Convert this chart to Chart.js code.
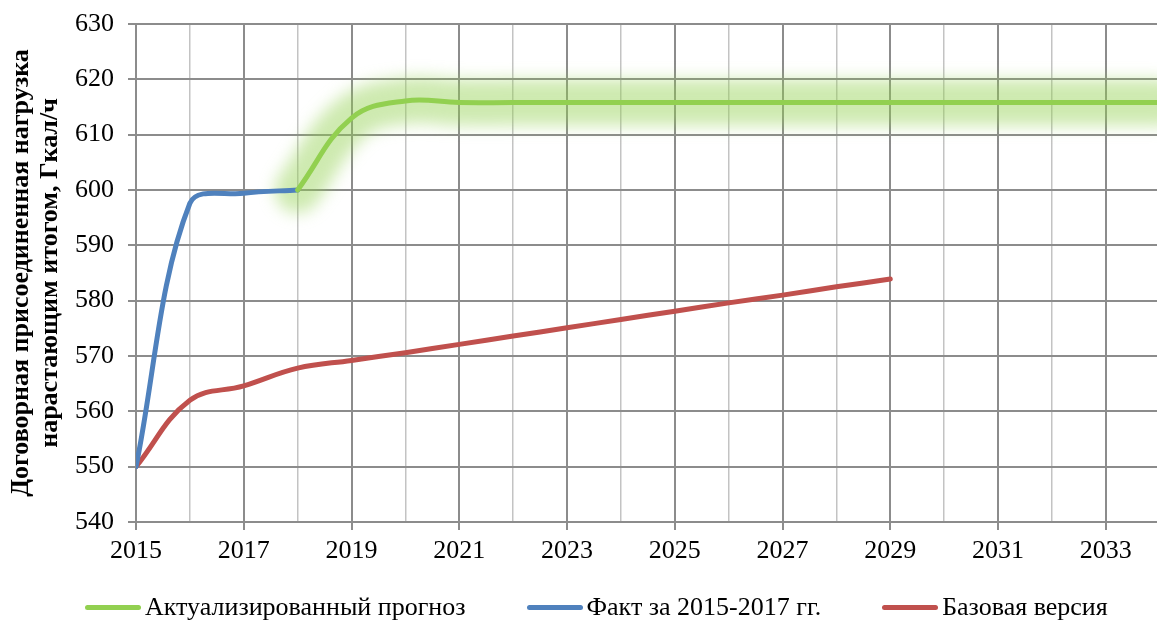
<!DOCTYPE html>
<html lang="ru">
<head>
<meta charset="utf-8">
<script src="https://cdn.jsdelivr.net/npm/chart.js@4.4.1/dist/chart.umd.min.js"></script>
<style>
  html, body { margin: 0; padding: 0; background: #fff; }
  .wrap { position: relative; width: 1157px; height: 623px; }
  .legend {
    position: absolute; left: 85px; top: 591px;
    display: flex; gap: 61px; align-items: center;
    font-family: 'Liberation Serif', 'Times New Roman', serif; font-size: 26px; color: #000;
    line-height: 32px;
  }
  .legend .item { display: flex; align-items: center; }
  .legend .swatch { width: 56px; height: 5px; border-radius: 3px; margin-right: 4px; }
</style>
</head>
<body>
<div class="wrap">
  <canvas id="chart" width="1157" height="623"></canvas>
  <div class="legend" id="legend"></div>
</div>
<script>
// ── DATA ─────────────────────────────────────────────────────
const forecastYears  = [2018, 2019, 2020, 2021, 2022, 2023, 2024, 2025, 2026, 2027, 2028, 2029, 2030, 2031, 2032, 2033, 2034];
const forecastValues = [600, 613.0, 616.1, 615.8, 615.8, 615.8, 615.8, 615.8, 615.8, 615.8, 615.8, 615.8, 615.8, 615.8, 615.8, 615.8, 615.8];

const factYears  = [2015, 2016, 2017, 2018];
const factValues = [550, 597.6, 599.4, 600];

const baseYears  = [2015, 2016, 2017, 2018, 2019, 2020, 2021, 2022, 2023, 2024, 2025, 2026, 2027, 2028, 2029];
const baseValues = [550, 562.0, 564.6, 567.8, 569.2, 570.6, 572.1, 573.6, 575.1, 576.6, 578.1, 579.6, 581.0, 582.5, 583.9];

const labels = ['Актуализированный прогноз', 'Факт за 2015-2017 гг.', 'Базовая версия'];
const colors = ['#92D050', '#4F81BD', '#C0504D'];

const yTitle = ['Договорная присоединенная нагрузка', 'нарастающим итогом, Гкал/ч'];
const tickYears = [];
for (let y = 2015; y <= 2033; y++) tickYears.push(y);

const FONT = "'Liberation Serif', 'Times New Roman', serif";
const GRID_MAJOR = '#8C8C8C';
const GRID_MINOR = '#C3C3C3';

function pts(xs, ys) {
  return xs.map((x, i) => ({ x, y: ys[i] }));
}

// ── GLOW PLUGIN (soft halo under the forecast line) ─────────
const glowPlugin = {
  id: 'glow',
  beforeDatasetDraw(chart, args) {
    if (chart.data.datasets[args.index].isGlow) chart.ctx.filter = 'blur(8px)';
  },
  afterDatasetDraw(chart, args) {
    chart.ctx.filter = 'none';
  }
};

// ── CHART ────────────────────────────────────────────────────
const ctx = document.getElementById('chart').getContext('2d');
new Chart(ctx, {
  type: 'line',
  data: {
    datasets: [
      { label: labels[0], data: pts(forecastYears, forecastValues), borderColor: colors[0], borderWidth: 5, tension: 0.4, pointRadius: 0, borderCapStyle: 'round' },
      { label: labels[1], data: pts(factYears, factValues), borderColor: colors[1], borderWidth: 5, tension: 0.35, pointRadius: 0, borderCapStyle: 'round' },
      { label: labels[2], data: pts(baseYears, baseValues), borderColor: colors[2], borderWidth: 5, tension: 0.4, pointRadius: 0, borderCapStyle: 'round' },
      { label: 'glow', isGlow: true, data: pts(forecastYears, forecastValues), borderColor: 'rgba(146,208,80,0.45)', borderWidth: 46, tension: 0.4, pointRadius: 0, borderCapStyle: 'round' }
    ]
  },
  options: {
    responsive: false,
    animation: false,
    layout: { padding: { top: 24, right: 0, bottom: 51, left: 0 } },
    plugins: { legend: { display: false }, tooltip: { enabled: false } },
    scales: {
      x: {
        type: 'linear',
        min: 2015,
        max: 2033.95,
        afterBuildTicks: s => { s.ticks = tickYears.map(v => ({ value: v })); },
        afterFit: s => { s.height = 50; s.paddingLeft = 0; s.paddingRight = 0; },
        grid: {
          color: c => (c.tick && c.tick.value % 2 === 1) ? GRID_MAJOR : GRID_MINOR,
          lineWidth: c => (c.tick && c.tick.value % 2 === 1) ? 2 : 1.5,
          tickColor: c => (c.tick && c.tick.value % 2 === 1) ? GRID_MAJOR : 'rgba(0,0,0,0)',
          tickLength: 8,
          drawTicks: true
        },
        border: { color: GRID_MAJOR, width: 2 },
        ticks: {
          autoSkip: false,
          maxRotation: 0,
          padding: 6,
          color: '#000',
          font: { family: FONT, size: 26 },
          callback: v => (v % 2 === 1 ? String(v) : '')
        }
      },
      y: {
        min: 540,
        max: 630,
        afterFit: s => { s.width = 136; s.paddingTop = 0; s.paddingBottom = 0; },
        grid: {
          color: c => (c.tick && c.tick.value % 10 === 0) ? GRID_MAJOR : GRID_MINOR,
          lineWidth: c => (c.tick && c.tick.value % 10 === 0) ? 2 : 1.5,
          tickColor: c => (c.tick && c.tick.value % 10 === 0) ? GRID_MAJOR : 'rgba(0,0,0,0)',
          tickLength: 8
        },
        border: { color: GRID_MAJOR, width: 2 },
        ticks: {
          stepSize: 5,
          padding: 14,
          color: '#000',
          font: { family: FONT, size: 26 },
          callback: v => (v % 10 === 0 ? String(v) : '')
        },
        title: {
          display: true,
          text: yTitle,
          color: '#000',
          font: { family: FONT, size: 26, weight: 'bold', lineHeight: 1.1 },
          padding: { top: 7, bottom: 0 }
        }
      }
    }
  },
  plugins: [glowPlugin]
});

// ── HTML LEGEND ─────────────────────────────────────────────
const legendEl = document.getElementById('legend');
labels.forEach((txt, i) => {
  const item = document.createElement('div');
  item.className = 'item';
  const sw = document.createElement('span');
  sw.className = 'swatch';
  sw.style.background = colors[i];
  const lb = document.createElement('span');
  lb.textContent = txt;
  item.appendChild(sw);
  item.appendChild(lb);
  legendEl.appendChild(item);
});
</script>
</body>
</html>
